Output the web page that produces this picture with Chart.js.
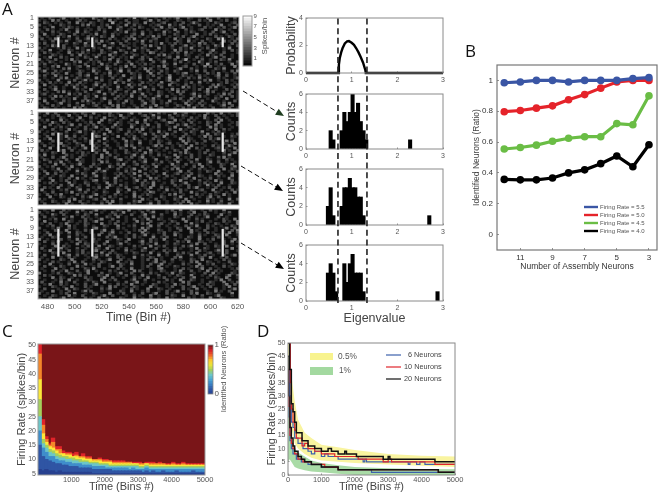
<!DOCTYPE html>
<html><head><meta charset="utf-8">
<style>html,body{margin:0;padding:0;background:#fff;width:661px;height:496px;overflow:hidden}
#w{position:relative;width:661px;height:496px;filter:blur(0.35px)}canvas{position:absolute;left:0;top:0}</style>
<script src="https://cdn.jsdelivr.net/npm/chart.js@4"></script></head><body><div id="w"></div>
<script>
// ---- Panel A raster (hand-estimated texture; one digit = spikes in a 2-bin cell) ----
const rasterBins=[474,621];
const rasterA=[
"01002100130010201000310020100210010400120001002010130002100100310020010020100",
"10100302001000120100002100301000200110001300200100021001000201030001020010201",
"00210010100200301002100100040010020110030010012000100200131000100210000120300",
"20001000210100002030100102000100300201000101200030102001000200101003001002010",
"00100300010210100010002100300120001002100010030021001300100002010010200130001",
"10020100103000200101002010000310010200001002100100300020100120000301001000210",
"01000201000100300210010020001010300100200100003010020010210001002001300100020",
"00300100210002001001030010020100001200300100102000210010003001020100010020100",
"10010002010300100020100210030000102001001030200010010200130010000201002100301",
"02001030000100200130010000201001020300010012000100301002001000210030100102000",
"00100200103000120010020301000100200010300201000100021003010020010000301020010",
"10200100001002100300102000130020010100200001030010201000100302001001000201003",
"00010310020001000210100030010002100100020301001002000130010200100310001002100",
"20100001020100301000201001300100020010210000301001002010300010200100103000201",
"01003000100210001030100200100021000300102001001000302010010200013000100201000",
"00201001000300102010000210013000201000100320010001020030100010020100200001301",
"10000210100020030100102000301001000210010000203010010021000100301002000100200",
"00103000201000100210030010020010103000201001000120030001002010001300200100102",
"30010020001030100002010010300200100001200300101000200140010020010002103000100",
"01002100100002030010102000100310020010100020013000102001000310010200001002030",
"10200010003101000200100301002000103001020100002100300010020010400102000301000",
"00100203000100120030001002100010300200100010203000100120001003020010100030010",
"20010100020300100010210003001020010001030200100200013000201001000210300001002",
"01300020100100021000301000200140020010003010020100210000103002001000100203000",
"00010201003000120010020010300100002101000300200100010230001000201030010020100",
"10200030100010020130000100201003000102001020010030000210100201000130020010001",
"00100100203000210010030100020010002103001000200140001002010300100020100012000",
"20010003000102001301000200100210030001000201000130020010000102030010020100103",
"01002010100300020100021000103002001000201010030002100010200300100001020010200",
"00300100002010201000130020100100030102000100210030010020010100002031000102000",
"10001020010003100200100201000300102000130010020001000302010010020300100021000",
"00200130010000201003000100200210010003001020000103020010010200300100020100130",
"10010002030100100200013000102000200301001000210010030200010001302000100201000",
"01200100000301020010100030020010102000300100210001002000130100200010302001000",
"00001030201000100210030010000201003001020001300200100100020301000102000201010",
"20100200010103000200100130002010010002001030100001202000301000100210030001002",
"00300010020100002031000100200100301000200120010030000102010020003100100020103",
"10020001300100200010201000300102001000130020010200100030100201000010203000100",
"01000201000200103000120010020301000100200103000100021003001020010001300200100",
"00210010010003020100001002100300010020010300120000100201030001002000102001300"];
const rasterB=[
"10030020001001002100300010200100013002000100201000300120010000201003001002010",
"00100102000300100201001000210030010000120030100020010210000103000200100102000",
"20000100210010030002010030001002100100002010300012000100201003100020010000210",
"01020000301000201001000300210010002010030100012000301002010000100203001000102",
"00100310020100000102003000100210010030020001000132000100200100210030000102000",
"10002001000130020010200100003010002100103000200100020130010000200301001002001",
"00300010201000100200130010020100003000210010200010300002100100030201000100200",
"01000200100301000201000103000120010020300100100020003010021000100300201000101",
"20010010002000130100201000300100020102000100301000200100210030001020100000301",
"00100300201001000100210030010000201000130020010301000020010010300210000102000",
"10020000103002001000132001000300010200100002103000100201000103020000100210010",
"00103000100210010200100040010002000310010020100100003002100010020130000100200",
"30000201001002000103002001001000301002000100210010000302010002001000130200100",
"01001000300100210003010020000100201003000100200120010030002010000100210030010",
"00200100021000103000201002000100302001000013020001002100300001002010003100200",
"10003001000201001300020010100021000300102000100201000103002010000120010030100",
"02010000130020010000201030001000200102000301001000210030000100200010301002000",
"00100210030000102010020003001000210010030200100010002031000102001000200130010",
"10300100002010002100100300200100001300200100201000301000200100021000103000201",
"01000200130010020000100301002000102001300010000210030010200100100020301000102",
"00210001002000301000102001000230010001020003000100201001003000210010020100013",
"10002010300100021000100302000100100200130001020010030000201000130020010010200",
"00100030020010130000201000100203000120010020100003010020010300100002100300100",
"20010200001030001002010000310020010000201003000100210100020030010002000130020",
"01000103000200100210003001000200101300020010001002030000100201001000300210001",
"00200010201000300100020130000100201003000102000100013002000100210030001002010",
"10030020010000102100300010001020010300020010003000120010200100000301000200100",
"00100100210030000200130010000201001003002000100201000103000210010020100300010",
"01002000100200301001000021003000100201000302001000100120030001020010003100200",
"20000300102001000100230010002010000130020010100002103000100200100301000200001",
"00102010000301000210010003002000100100201030001002000130000102010003000210100",
"10000100200130010020001000310020100000210030010000201002000100301020001000120",
"00201003000100210000102003000100200120010300020100010002013000100200102000301",
"03000100102000130020010010000210030001002000100301002010000120003001000201000",
"00100200001030010200100021000300100200010320001000102000301001000210010030002",
"10020010300000201000130010002010000300102100010020300100002010020100301000100",
"00003000210010002013000100201000100302000100021000103000200100130020001000102",
"20100100000203001000120030010020000100301002001000210030010000201001003002000",
"01000210010300020010000102030010000213000100200100010203000100301002000100210",
"00200001003010002100100200300010020100001300200100102000301000100021003000100"];
const rasterC=[
"00100300020100102000130010000210030001002010000102003000210010020100300000120",
"20010000201000300102000100021003000100200130000100201001030002000100102000301",
"01000310020000100210030000102010002000130010020000301000200102100003001000201",
"00200100001030002010010002100300100001020030010000210002001001300020010000102",
"10001020030010000201001300020000100200103000210010000301002010000100210030001",
"00300010000210010200130000100200100030100200001002100030001020010000201003000",
"01002000103000100210000300102001000100203000120010020000301000100210010003002",
"00010200100301000200100021000300010200001300200100100020103000201001000210030",
"20000103000201000100230010000201000100302000100010021003000100200100130020000",
"00100021003000100201000130020000100102030000210010002000301002000100100203001",
"10020000100300210001000200130010020000301000102000210000300100201000103002000",
"00103002000100201000103000210000100200130010002000301000100201000210030001000",
"01000210000300100200100002013000100201000030010200001002100300001020001000301",
"30010000200100301000201000100210030000100201003000100021000300102000100130020",
"00200103000010020100210003000100200001300201000100020103000210010000200301001",
"10000201001000300210010020000130010000201003000100210000103002000100200100130",
"00100030020100001020003000210010000201000300102000100201300000100210030001002",
"02000100301000200100021003000100200100130002000100201000103002100010000300201",
"00103000100200102000130010020000301000210010002010300000100201000130020001000",
"10000210030000102010000300201000100210000300100200010201003000120010020000301",
"00200100001300200100020103000210000100201000300100021000300102001000200130001",
"01000300100201000010230000100201000300100210010000203000100120030001020000100",
"20010000210030000100201001300020010000102003010002001000210030000100201000100",
"00100201000103002000100210000300102000100013002001000100203000210010002000301",
"10003000100200100301002000100021003000100200130010000201000300102000100210000",
"00200100210000301000102000130020001000102000300100210000103020000100201000300",
"01000030010020000210300010000201003000100100230000100201000130020010000102010",
"00100200103000200130010000201000100302000100021000103000200100300201000010200",
"30000102000210010030000200100130002000100201000103002100010002003010000210000",
"00201000100003020100002103000100200100301000200010021000300010020100013002000",
"10000300210010000201000130020001000201003000102000100200130000100210030001000",
"00100010200300100021000300102000001300020010000201003000210010000103002000100",
"02000100301002000100210030000100200130010000201001000302000010021000300102000",
"00103000201000100200130000100201003000100021000100301002000100201000130020010",
"10000210010030000201000100302000100210000301000102000200130010020000103000201",
"00200001003002100010000201300001002010003000210010000201003001000200100130000",
"01000300100200001302000100100021003000102000100200130000201000100301002000100",
"20010000102003000100210000300102000100200013000201000100203000210010000300102",
"00100210000301002000100130020000100201000300100002100300010020000130000100201",
"10002000130010000201003001000021000300100200100301000002010010030002100000100"];
const assemblyBins=[488,513,609];
const assemblyRowsA=[[10,13],[10,17],[10,21]];
const neuronTicks=[1,5,9,13,17,21,25,29,33,37];
const binTicks=[480,500,520,540,560,580,600,620];
const spikeLevels=[0,0.5,1,1.5,2,2.5,3,3.5,4,4.5,5,5.5,6,6.5,7,7.5,8,8.5,9];
const spikeTicks=[1,3,5,7,9];
// ---- Panel A eigenvalue plots ----
const mpX=[0,.71,.72,.74,.77,.8,.85,.9,.94,1,1.05,1.1,1.15,1.2,1.25,1.3,1.31,3];
const mpY=[0,0,.6,1.1,1.5,1.8,2.15,2.3,2.32,2.2,2.05,1.8,1.5,1.15,.75,.2,0,0];
const mpBounds=[.7,1.335];
const hist1X=[.54,.6,.78,.84,.9,.96,1.02,1.08,1.14,1.2,1.26,1.32,2.28];
const hist1Y=[2,1,2,4,3,4,6,4,5,3,2,1,1];
const hist2X=[.48,.54,.6,.78,.84,.9,.96,1.02,1.08,1.14,1.2,1.26,2.7];
const hist2Y=[2,4,1,2,4,4,5,4,4,3,3,1,1];
const hist3X=[.48,.54,.6,.66,.84,.9,.96,1.02,1.08,1.14,1.2,1.26,2.88];
const hist3Y=[3,4,3,1,4,2,4,5,3,3,3,1,1];
const eigTicks=[0,1,2,3], countTicks=[0,2,4,6], probTicks=[0,2,4];
// ---- Panel B ----
const assemblySizes=[12,11,10,9,8,7,6,5,4,3];
const rate55=[.985,.99,1,1,.99,1,1,1,1.012,1.018];
const rate50=[.797,.805,.82,.835,.875,.908,.95,.99,1,1];
const rate45=[.555,.565,.58,.605,.625,.635,.635,.72,.712,.9];
const rate40=[.358,.355,.355,.367,.4,.42,.46,.51,.44,.583];
const bXTicks=[11,9,7,5,3], bYTicks=[0,.2,.4,.6,.8,1];
const bLegend=['Firing Rate = 5.5','Firing Rate = 5.0','Firing Rate = 4.5','Firing Rate = 4.0'];
// ---- Panel C: per 100-bin column, the top of each colour band ----
const navyTop=[6.5,6,6.5,6,6,5.5,6,5.5,5.5,5.5,5.5,5.5,5.5,5.5,5.5,5.5,5,5,5,5,5,5,5,5,5,5,5,5,5,5,5,5,5,5,5,5,5,5,5,5,5,5,5,5,5,5,5,5,5,5];
const blueTop=[15,11,10,9.5,9,8.5,8.5,8,8,7.5,7.5,7.5,7,7,7,7,6.5,6.5,6.5,6.5,6.5,6.5,6,6,6,6,6,6,6,6,6,5.5,6,5.5,6,5.5,5.5,6,5.5,5.5,5.5,6,5.5,5.5,5.5,5.5,6,5.5,5.5,5.5];
const lightTop=[20,14,12.5,11,11,10,9.5,9.5,9,9,8.5,8.5,8.5,8,8,8,7.5,7.5,7.5,7.5,7,7,7,7,7,7,7,6.5,7,6.5,6.5,6.5,7,6.5,6.5,6.5,6.5,6.5,6.5,6.5,6.5,6.5,6.5,6.5,6.5,6.5,6.5,6.5,6.5,6.5];
const cyanTop=[25,15.5,14,12.5,12,11,10.5,10.5,10,10,9.5,9.5,9,9,9,8.5,8.5,8.5,8,8,8,7.5,7.5,7.5,7.5,7.5,7.5,7.5,7.5,7.5,7,7,7.5,7,7,7,7,7,7,7,7,7,7,7,7,7,7,7,7,7];
const greenTop=[31,17,15,13.5,13,12,11.5,11,11,10.5,10.5,10,10,9.5,9.5,9,9,9,8.5,8.5,8.5,8,8,8,8,8,8,8,8,8,7.5,7.5,8,7.5,7.5,7.5,7.5,7.5,7.5,7.5,7.5,7.5,7.5,7.5,7.5,7.5,7.5,7.5,7.5,7.5];
const yellowTop=[38,19,16,14.5,14,13,12,12,11.5,11.5,11,11,10.5,10.5,10,10,9.5,9.5,9.5,9,9,9,8.5,8.5,8.5,8.5,8.5,8.5,8.5,8.5,8,8,8.5,8,8,8,8,8,8,8,8,8,8,8,8,8,8,8,8,8];
const orangeTop=[47,22,17,15,16,13.5,13.5,12,12,12,11,11.5,11,11,10.5,10.5,10,10,10,9.5,9.5,9.5,9,9,9,9,9,9,8.5,8.5,8.5,8.5,8.5,8.5,8.5,8.5,8.5,8.5,8,8,8.5,8,8,8.5,8,8,8,8,8,8];
const redTop=[50.5,24,18,15.5,17.5,14.5,14.5,13,12.5,12.5,12,12.5,11,12,11,11,10,10,10.5,10,10,9.5,9.5,9.5,9.5,9.5,9,9,9,9,9,8.5,9,9,9,8.5,9,8.5,8.5,8.5,9,8.5,8.5,9,8.5,8.5,8.5,8.5,8.5,8.5];
const timeTicks=[1000,2000,3000,4000,5000];
const rateTicksC=[5,10,15,20,25,30,35,40,45,50];
const ratioLevels=[0,.05,.1,.15,.2,.25,.3,.35,.4,.45,.5,.55,.6,.65,.7,.75,.8,.85,.9,.95,1];
const ratioColors=['#27408f','#2a4a9b','#2f55a4','#3468b2','#3a7cc0','#4290ca','#4ba3d3','#5ab6ce','#6cc6c8','#88cb92','#a4cf5c','#c5d94a','#e6e23a','#f5d834','#fbc52e','#f6982c','#f0672a','#e4452a','#d8232a','#a91c21','#7a1518'];
// ---- Panel D: step curves (t, value holds from t) ----
const up20T=[0,50,100,150,200,250,420,600,800,1000,1200,1300,1500,1700,1750,2050,2850,3000,3050,4400,5000];
const up20V=[50,40,27,24,20,16,13,11,10,9,10,9,8,9,8,7,6,7,6,5,5];
const up10T=[0,70,100,150,200,250,420,500,600,800,1000,1400,2100,2850,3000,3100,4400,5000];
const up10V=[50,35,25,20,17,14,11,12,10,9,8,7,6,5,6,5,4,4];
const up6T=[0,60,100,150,200,300,450,600,700,800,1000,1100,1200,1500,2250,2300,2350,3600,3650,3850,3950,4100,5000];
const up6V=[50,30,20,18,14,12,10,9,8,9,7,8,7,6,5,6,5,4,5,4,5,4,4];
const lo20T=[0,30,60,100,150,200,300,400,500,700,1000,1500,4500,5000];
const lo20V=[45,30,18,14,11,9,7,6,5,4,3,2,1,1];
const lo10T=[0,30,60,100,150,200,300,450,700,1100,1500,4500,5000];
const lo10V=[40,26,15,12,10,8,6,5,4,3,2,1,1];
const lo6T=[0,30,60,100,150,250,400,600,1000,1500,2500,5000];
const lo6V=[35,22,13,10,8,6,5,4,3,2,1,1];
const bandT=[0,50,100,200,300,500,700,1000,1500,2000,3000,4000,5000];
const yellowHi=[50,50,38,28,21,16,14,11.5,10.5,9.5,8,7.3,7];
const yellowLo=[30,24,18,12,10,8,6.5,5.5,5,4.5,4,3.5,3];
const greenHi=[40,20,14,10,8.5,7,5.5,4.5,3.7,3,2.6,2.3,2.2];
const greenLo=[5,6,5,3,2.5,1.8,1.3,1,.5,0,0,0,0];
const rateTicksD=[0,5,10,15,20,25,30,35,40,45,50];
const timeTicksD=[0,1000,2000,3000,4000,5000];

const FAM='"Liberation Sans",Arial,sans-serif';
const W=661,H=496;
function axis(o,isX){
  return {type:'linear',display:!o.hidden,position:o.position||(isX?'bottom':'left'),min:o.min,max:o.max,reverse:!!o.reverse,offset:false,
    afterBuildTicks:s=>{s.ticks=(o.ticks||[]).map(v=>({value:v}))},
    afterFit:s=>{if(isX)s.height=o.size||0;else s.width=o.size||0},
    grid:{drawOnChartArea:false,offset:false,drawTicks:true,tickLength:-(o.tick===undefined?2:o.tick),color:'#777',lineWidth:.8},
    border:{display:false},
    ticks:{autoSkip:false,maxRotation:0,minRotation:0,font:{size:o.font||7,family:FAM},color:o.color||'#555',padding:o.pad===undefined?5:o.pad,callback:v=>String(v)},
    title:{display:!!o.title,text:o.title||'',font:{size:o.tsize||12,family:FAM,lineHeight:1.2},color:o.tcolor||'#444',padding:0}};
}
function panel(c){
  const cv=document.createElement('canvas');cv.width=W;cv.height=H;document.getElementById('w').appendChild(cv);
  const [L,T,R,B]=c.box,xo=c.x||{hidden:true},yo=c.y||{hidden:true};
  // the scale box must be wide enough, since Chart.js clips tick labels to it
  xo.size=xo.hidden?0:(xo.titleAt?xo.titleAt-B+(xo.tsize||12)*.6:14);
  yo.size=yo.hidden?0:(yo.titleAt?L-yo.titleAt+(yo.tsize||12)*.6:14);
  const right=yo.position==='right';
  const pre={id:'pre',beforeDatasetsDraw(ch){if(c.bg){const a=ch.chartArea;ch.ctx.save();ch.ctx.fillStyle=c.bg;ch.ctx.fillRect(a.left,a.top,a.width,a.height);ch.ctx.restore()}},
    afterDatasetsDraw(ch){const a=ch.chartArea,x=ch.ctx;x.save();if(c.frame){x.strokeStyle=c.frame;x.lineWidth=c.frameW||1.2;x.strokeRect(a.left,a.top,a.width,a.height)}if(c.deco)c.deco(x);x.restore()}};
  new Chart(cv,{type:c.type||'bar',data:{datasets:c.datasets},plugins:[pre],options:{responsive:false,animation:false,events:[],
    layout:{padding:{left:right?L:L-yo.size,top:T,right:right?W-R-yo.size:W-R,bottom:H-B-xo.size}},
    plugins:{legend:{display:false},tooltip:{enabled:false}},
    scales:{x:axis(xo,true),y:axis(yo,false)}}});
}
const gray=z=>{const v=[12,44,80,118,150,185,210,230,245,250][Math.min(9,Math.max(0,Math.round(z)))];return `rgb(${v},${v},${v})`};
function rasterCells(rows){const out=[];rows.forEach((r,i)=>{for(let c=0;c<r.length;c++){const z=+r[c];if(z>0)out.push({x:rasterBins[0]+2*c,y:[i+.5,i+1.5],z})}});return out}
function raster(rows,span,box,showX){
  panel({box,bg:'#0c0c0c',frame:'#b5b5b5',frameW:1,
    x:showX?{min:473,max:621,ticks:binTicks,font:8,tick:0,pad:3,title:'Time (Bin #)',titleAt:318,tsize:12}:{hidden:true,min:473,max:621},
    y:{min:.5,max:40.5,reverse:true,ticks:neuronTicks,font:7,tick:0,pad:4,title:'Neuron #',titleAt:16,tsize:12.5},
    datasets:[
      {data:assemblyBins.map(b=>({x:b,y:[span[0]-.5,span[1]+.5]})),backgroundColor:'#e6e6e6',barThickness:1.6,grouped:false,borderWidth:0},
      {data:rasterCells(rows),backgroundColor:k=>gray(k.raw?k.raw.z:0),barThickness:2.9,grouped:false,borderWidth:0}]});
}
raster(rasterA,assemblyRowsA[0],[38,17,239,109],false);
raster(rasterB,assemblyRowsA[1],[38,112,239,205],false);
raster(rasterC,assemblyRowsA[2],[38,209,239,299],true);
panel({box:[243,16,252,66],frame:'#999',frameW:1,x:{hidden:true,min:-1,max:1},
  y:{position:'right',min:-.4,max:9,ticks:spikeTicks,font:6,tick:0,pad:1.5},
  datasets:[{data:spikeLevels.map(v=>({x:0,y:[v-.3,v+.3]})),backgroundColor:k=>{const v=Math.round(10+(k.raw?k.raw.y[0]+.3:0)/9*240);return `rgb(${v},${v},${v})`},barThickness:12,grouped:false,borderWidth:0}]});
// probability
panel({box:[306,18,443,73],type:'line',frame:'#8a8a8a',frameW:1,
  x:{min:0,max:3,ticks:eigTicks,font:7,tick:1.5,pad:4},
  y:{min:0,max:4,ticks:probTicks,font:7,tick:1.5,pad:4.5,title:'Probability',titleAt:292,tsize:12.5},
  datasets:[{data:mpX.map((x,i)=>({x,y:mpY[i]})),borderColor:'#000',borderWidth:2.4,pointRadius:0,clip:false,tension:0}]});
function hist(xs,ys,box,xtitle){
  panel({box,frame:'#8a8a8a',frameW:1,
    x:{min:0,max:3,ticks:eigTicks,font:7,tick:1.5,pad:4,title:xtitle,titleAt:xtitle?319:0,tsize:12.5},
    y:{min:0,max:6,ticks:countTicks,font:7,tick:1.5,pad:4.5,title:'Counts',titleAt:292,tsize:12.5},
    datasets:[{data:xs.map((x,i)=>({x,y:ys[i]})),backgroundColor:'#000',barThickness:3.4,borderWidth:0}]});
}
hist(hist1X,hist1Y,[306,94,443,149]);
hist(hist2X,hist2Y,[306,169,443,225]);
hist(hist3X,hist3Y,[306,245,443,301],'Eigenvalue');
// Panel B
const bDatasets=[[rate55,'#3a56a5'],[rate50,'#e5232a'],[rate45,'#6abd45'],[rate40,'#000']].map(([v,col])=>({data:assemblySizes.map((x,i)=>({x,y:v[i]})),borderColor:col,backgroundColor:col,borderWidth:3.2,pointRadius:3.8,pointBorderWidth:0,tension:0,clip:false}));
panel({box:[497,65,658,250],type:'line',frame:'#777',frameW:1.2,datasets:bDatasets,
  x:{min:2.5,max:12.45,reverse:true,ticks:bXTicks,font:8,tick:2,pad:5,color:'#333',title:'Number of Assembly Neurons',titleAt:266.5,tsize:8.5,tcolor:'#333'},
  y:{min:-.1,max:1.1,ticks:bYTicks,font:8,tick:2,pad:6,color:'#333',title:'Identified Neurons (Ratio)',titleAt:477,tsize:8.5,tcolor:'#444'},
  deco(x){x.font='6px '+FAM;x.textBaseline='middle';bLegend.forEach((t,i)=>{const y=207+8*i;x.strokeStyle=bDatasets[i].borderColor;x.lineWidth=2.4;x.beginPath();x.moveTo(584,y);x.lineTo(598,y);x.stroke();x.fillStyle='#555';x.fillText(t,600,y)})}});
// Panel C
const tCols=redTop.map((_,k)=>50+100*k);
const bands=[[navyTop,'#27408f'],[blueTop,'#2f55a4'],[lightTop,'#3f8ecb'],[cyanTop,'#6cc6c8'],[greenTop,'#a4cf5c'],[yellowTop,'#fbe83a'],[orangeTop,'#f4872a'],[redTop,'#e0232a']];
panel({box:[38,344,205,475],bg:'#7a1518',frame:'#999',frameW:1,
  x:{min:0,max:5000,ticks:timeTicks,font:7.5,tick:0,pad:.5,title:'Time (Bins #)',titleAt:487,tsize:11},
  y:{min:4.5,max:50.5,ticks:rateTicksC,font:7,tick:0,pad:2,title:'Firing Rate (spikes/bin)',titleAt:22,tsize:11},
  datasets:bands.map(([tops,col],b)=>({data:tCols.map((t,k)=>({x:t,y:[b?bands[b-1][0][k]:4.5,tops[k]]})),backgroundColor:col,barThickness:3.7,grouped:false,borderWidth:0}))});
panel({box:[208,345,213,394],frame:'#888',frameW:.8,x:{hidden:true,min:-1,max:1},
  y:{position:'right',min:0,max:1,ticks:[0,1],font:8,tick:0,pad:1.5},
  datasets:[{data:ratioLevels.map(v=>({x:0,y:[v-.03,v+.03]})),backgroundColor:ratioColors,barThickness:8,grouped:false,borderWidth:0}]});
// Panel D
const step=(T,V,col,w)=>({data:T.map((x,i)=>({x,y:V[i]})),borderColor:col,borderWidth:w,pointRadius:0,stepped:true,fill:false});
const band=(V,col,fill)=>({data:bandT.map((x,i)=>({x,y:V[i]})),borderWidth:0,pointRadius:0,tension:0,backgroundColor:col,fill});
panel({box:[288,343,455,475],type:'line',frame:'#888',frameW:1,
  x:{min:0,max:5000,ticks:timeTicksD,font:7.5,tick:1.5,pad:2,title:'Time (Bins #)',titleAt:487,tsize:11},
  y:{min:0,max:50,ticks:rateTicksD,font:7,tick:1.5,pad:4,title:'Firing Rate (spikes/bin)',titleAt:272,tsize:11},
  datasets:[step(up20T,up20V,'#111',1.5),step(up10T,up10V,'#e0262c',1.2),step(up6T,up6V,'#3d62ac',1.2),
    step(lo20T,lo20V,'#111',1.5),step(lo10T,lo10V,'#e0262c',1.2),step(lo6T,lo6V,'#3d62ac',1.2),
    band(greenHi,'#a9dba6','+1'),band(greenLo,'#a9dba6',false),
    band(yellowHi,'#f9f4a0','+1'),band(yellowLo,'#f9f4a0',false)],
  deco(x){x.fillStyle='#f8f38e';x.fillRect(310,353,23,7);x.fillStyle='#a3d9a0';x.fillRect(310,367,23,8);
    x.font='8.3px '+FAM;x.fillStyle='#555';x.textBaseline='middle';x.fillText('0.5%',338,356.5);x.fillText('1%',339,371);
    x.font='7.3px '+FAM;[['6 Neurons',408,355,'#3d62ac'],['10 Neurons',404,367,'#e0262c'],['20 Neurons',404,379,'#111']].forEach(([t,tx,y,col])=>{x.strokeStyle=col;x.lineWidth=1.2;x.beginPath();x.moveTo(386,y);x.lineTo(401,y);x.stroke();x.fillStyle='#444';x.fillText(t,tx,y)})}});
// Overlay: Marchenko-Pastur bounds, arrows, colourbar captions, panel letters
panel({box:[306,18,443,303],type:'line',x:{hidden:true,min:0,max:3},y:{hidden:true,min:0,max:1},
  datasets:mpBounds.map(b=>({data:[{x:b,y:0},{x:b,y:1}],borderColor:'#222',borderWidth:1.6,borderDash:[6,3.6],pointRadius:0,clip:false})),
  deco(x){
    [[243,91,284,116,'#1f3d20'],[241,166,283,191,'#000'],[241,243,284,269,'#000']].forEach(([a,b,c,d,col])=>{
      x.strokeStyle='#111';x.lineWidth=1;x.setLineDash([5,3]);x.beginPath();x.moveTo(a,b);x.lineTo(c-5,d-3);x.stroke();x.setLineDash([]);
      const ang=Math.atan2(d-b,c-a);x.fillStyle=col;x.beginPath();x.moveTo(c,d);x.lineTo(c-9*Math.cos(ang-.4),d-9*Math.sin(ang-.4));x.lineTo(c-9*Math.cos(ang+.4),d-9*Math.sin(ang+.4));x.closePath();x.fill()});
    const vt=(t,tx,ty,s)=>{x.save();x.translate(tx,ty);x.rotate(-Math.PI/2);x.font=s+'px '+FAM;x.fillStyle='#555';x.textAlign='center';x.textBaseline='middle';x.fillText(t,0,0);x.restore()};
    vt('Spikes/bin',265,36,8);vt('Identified Neurons (Ratio)',224,369,7.6);
    x.font='17px "Open Sans",'+FAM;x.fillStyle='#111';x.textBaseline='alphabetic';
    [['A',2,15],['B',465,57],['C',2,337],['D',257,337]].forEach(([t,tx,ty])=>x.fillText(t,tx,ty))}});
</script></body></html>
